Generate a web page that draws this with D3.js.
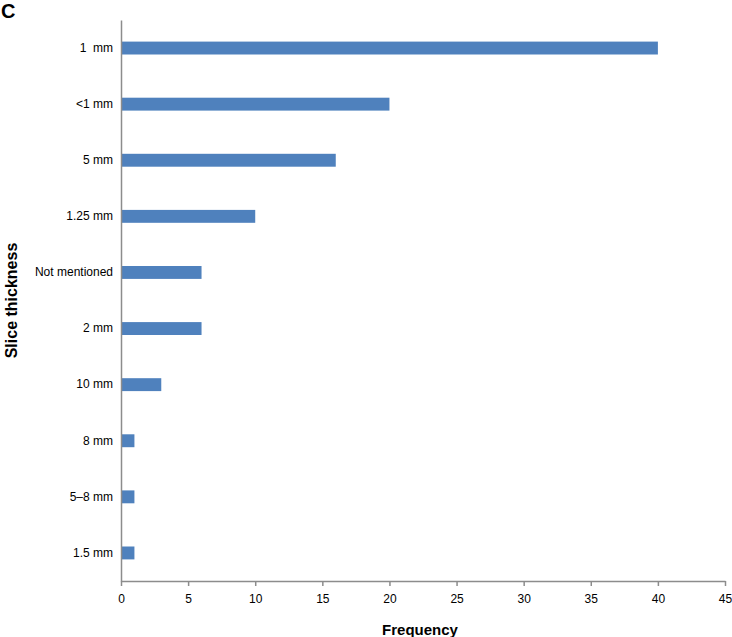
<!DOCTYPE html>
<html>
<head>
<meta charset="utf-8">
<script src="https://cdn.jsdelivr.net/npm/d3@7"></script>
<style>
  body { margin: 0; background: #fff; }
  svg { display: block; font-family: "Liberation Sans", Arial, sans-serif; }
  svg text { white-space: pre; }
</style>
</head>
<body>
<div id="chart"></div>
<script>
// Slice thickness categories, top to bottom
const categories = ["1  mm", "<1 mm", "5 mm", "1.25 mm", "Not mentioned", "2 mm", "10 mm", "8 mm", "5\u20138 mm", "1.5 mm"];
const frequency = [40, 20, 16, 10, 6, 6, 3, 1, 1, 1];
const xTicks = [0, 5, 10, 15, 20, 25, 30, 35, 40, 45];

const width = 732, height = 637;
const margin = { top: 20, right: 7, bottom: 56, left: 121 };
const innerW = width - margin.left - margin.right;
const innerH = height - margin.top - margin.bottom;

const data = categories.map((c, i) => ({ cat: c, value: frequency[i] }));

const svg = d3.select("#chart").append("svg")
    .attr("width", width)
    .attr("height", height);

const g = svg.append("g")
    .attr("transform", `translate(${margin.left},${margin.top})`);

const x = d3.scaleLinear().domain([0, 45]).range([0, innerW]);
const y = d3.scaleBand().domain(categories).range([0, innerH]).paddingInner(0.77).paddingOuter(0.385);

const axisColor = "#8c8c8c";

// Bars
g.selectAll(".bar")
    .data(data)
    .join("rect")
    .attr("class", "bar")
    .attr("x", 0)
    .attr("y", d => y(d.cat))
    .attr("width", d => x(d.value))
    .attr("height", y.bandwidth())
    .attr("fill", "#4f81bd");

// X axis
const xAxis = g.append("g")
    .attr("transform", `translate(0,${innerH})`)
    .call(d3.axisBottom(x).tickValues(xTicks).tickSize(5).tickSizeOuter(0).tickPadding(8));
xAxis.select(".domain").attr("stroke", axisColor).attr("stroke-width", 1.5);
xAxis.selectAll(".tick line").attr("stroke", axisColor).attr("stroke-width", 1.5);
xAxis.selectAll("text").attr("fill", "#000").style("font-size", "12px");

// Y axis
const yAxis = g.append("g")
    .call(d3.axisLeft(y).tickSize(0).tickPadding(8));
yAxis.select(".domain").attr("stroke", axisColor).attr("stroke-width", 1.5);
yAxis.selectAll("text").attr("fill", "#000").style("font-size", "12px");

// Axis titles
svg.append("text")
    .attr("x", margin.left + innerW / 2 - 3)
    .attr("y", 635)
    .attr("text-anchor", "middle")
    .style("font-size", "15px")
    .style("font-weight", "bold")
    .text("Frequency");

svg.append("text")
    .attr("transform", `translate(17,${margin.top + innerH / 2}) rotate(-90)`)
    .attr("text-anchor", "middle")
    .style("font-size", "16px")
    .style("font-weight", "bold")
    .text("Slice thickness");

// Panel letter
svg.append("text")
    .attr("x", 1)
    .attr("y", 18)
    .style("font-size", "20px")
    .style("font-weight", "bold")
    .text("C");
</script>
</body>
</html>
